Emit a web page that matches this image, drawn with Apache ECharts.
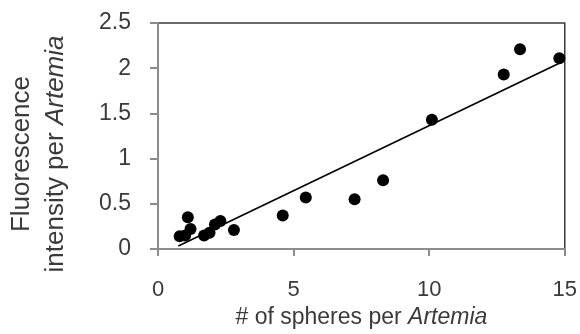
<!DOCTYPE html>
<html>
<head>
<meta charset="utf-8">
<script src="https://cdn.jsdelivr.net/npm/echarts@6/dist/echarts.min.js"></script>
<style>html,body{margin:0;padding:0;background:#fff}#c{width:580px;height:334px}</style>
</head>
<body>
<div id="c"></div>
<script>
var spheres = [0.8, 1.0, 1.1, 1.2, 1.7, 1.9, 2.1, 2.3, 2.8, 4.6, 5.45, 7.25, 8.3, 10.1, 12.75, 13.35, 14.8];
var fluorescence = [0.14, 0.15, 0.35, 0.22, 0.15, 0.18, 0.27, 0.31, 0.21, 0.37, 0.57, 0.55, 0.76, 1.43, 1.93, 2.21, 2.11];
var trendX = [0.75, 14.95];
var trendY = [0.033, 2.076];
var xTicks = [0, 5, 10, 15];
var yTicks = [0, 0.5, 1, 1.5, 2, 2.5];

var pts = spheres.map(function (x, i) { return [x, fluorescence[i]]; });
var line = trendX.map(function (x, i) { return [x, trendY[i]]; });
var FONT = 'Liberation Sans';
var TXT = '#3a3a3a';

var chart = echarts.init(document.getElementById('c'), null, { renderer: 'canvas' });
chart.setOption({
  animation: false,
  grid: { left: 158, right: 14, top: 23, bottom: 77, show: true, borderColor: '#3a3a3a', borderWidth: 1.5, backgroundColor: 'transparent' },
  xAxis: {
    type: 'value', min: xTicks[0], max: xTicks[xTicks.length - 1], interval: 5,
    axisLine: { show: true, onZero: false, lineStyle: { color: '#8c8c8c', width: 2 } },
    axisTick: { show: true, inside: false, length: 7, lineStyle: { color: '#8c8c8c', width: 2 } },
    splitLine: { show: false },
    axisLabel: { color: TXT, fontFamily: FONT, fontSize: 22, margin: 30 },
    name: '{n|# of spheres per }{i|Artemia}', nameLocation: 'middle', nameGap: 57,
    nameTextStyle: { rich: { n: { color: TXT, fontFamily: FONT, fontSize: 23 }, i: { color: TXT, fontFamily: FONT, fontSize: 23, fontStyle: 'italic' } } }
  },
  yAxis: {
    type: 'value', min: yTicks[0], max: yTicks[yTicks.length - 1], interval: 0.5,
    axisLine: { show: true, onZero: false, lineStyle: { color: '#8c8c8c', width: 2 } },
    axisTick: { show: true, inside: false, length: 8, lineStyle: { color: '#8c8c8c', width: 2 } },
    splitLine: { show: false },
    axisLabel: { color: TXT, fontFamily: FONT, fontSize: 23, margin: 27 }
  },
  graphic: [
    { type: 'text', x: 22, y: 154, rotation: Math.PI / 2, style: { text: 'Fluorescence', fill: TXT, font: '26px "Liberation Sans"', align: 'center', verticalAlign: 'middle' } },
    { type: 'text', x: 56, y: 154, rotation: Math.PI / 2, style: { text: '{n|intensity per }{i|Artemia}', fill: TXT, align: 'center', verticalAlign: 'middle',
      rich: { n: { fill: TXT, fontFamily: FONT, fontSize: 26 }, i: { fill: TXT, fontFamily: FONT, fontSize: 26, fontStyle: 'italic' } } } }
  ],
  series: [
    { type: 'line', data: line, symbol: 'none', lineStyle: { color: '#000', width: 1.6 }, z: 2 },
    { type: 'scatter', data: pts, symbol: 'circle', symbolSize: 12, itemStyle: { color: '#000', opacity: 1 }, z: 3 }
  ]
});
</script>
</body>
</html>
